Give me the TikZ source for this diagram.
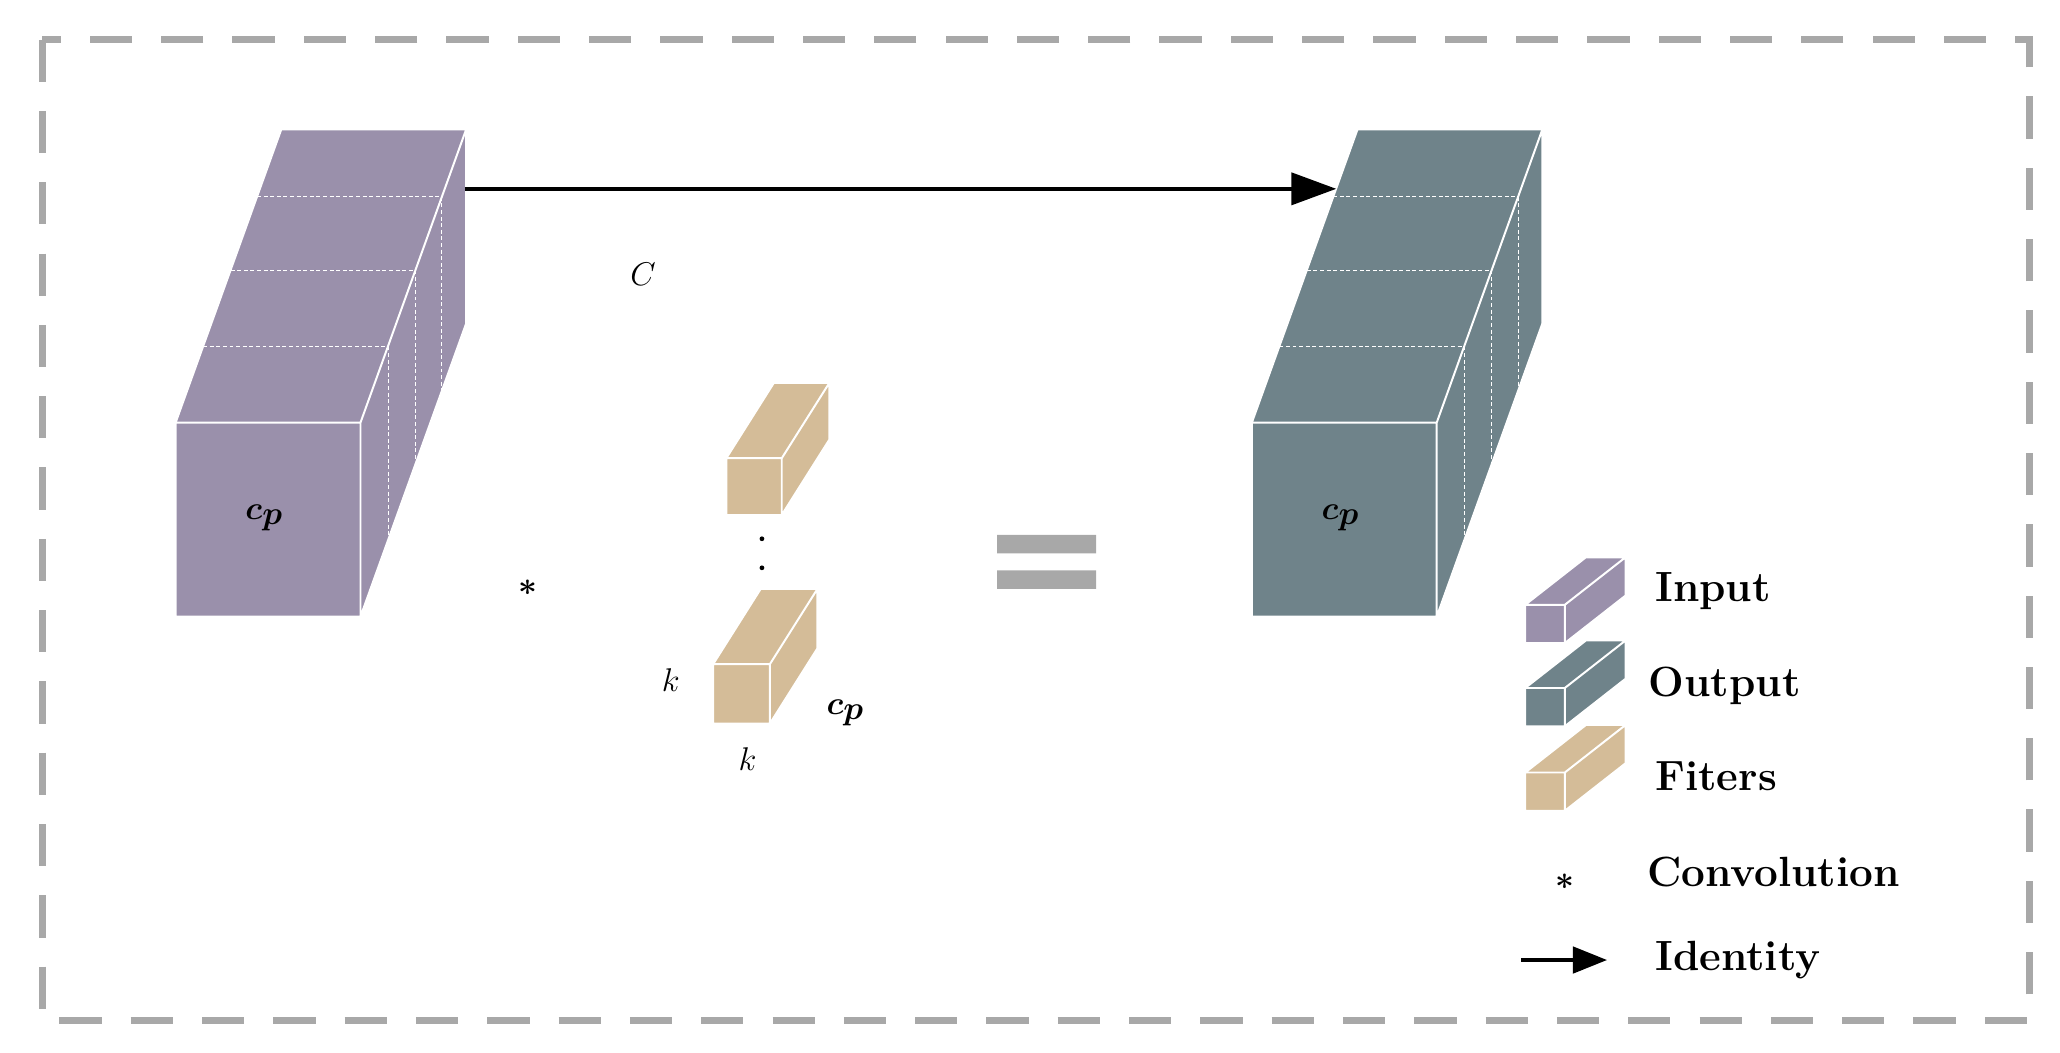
\documentclass[tikz,border=0pt]{standalone}
\usepackage{amsmath,bm}
\usetikzlibrary{arrows.meta}
\definecolor{inp}{HTML}{9A90AB}
\definecolor{outp}{HTML}{6F838A}
\definecolor{filt}{HTML}{D4BC98}
\definecolor{frame}{HTML}{A8A8A8}
% #1 left x, #2 front top y, #3 w, #4 h, #5 dx, #6 dy, #7 colour
\newcommand\mycube[7]{%
  \fill[#7] (#1,#2) rectangle (#1+#3,#2+#4);
  \fill[#7] (#1,#2)--(#1+#5,#2-#6)--(#1+#3+#5,#2-#6)--(#1+#3,#2)--cycle;
  \fill[#7] (#1+#3,#2)--(#1+#3+#5,#2-#6)--(#1+#3+#5,#2+#4-#6)--(#1+#3,#2+#4)--cycle;
  \draw[white,line width=1.5pt,line join=round] (#1,#2) rectangle (#1+#3,#2+#4)
    (#1,#2)--(#1+#5,#2-#6)--(#1+#3+#5,#2-#6)--(#1+#3,#2)
    (#1+#3+#5,#2-#6)--(#1+#3+#5,#2+#4-#6)--(#1+#3,#2+#4);}
\newcommand\mygrid[6]{%
  \foreach \t in {0.26,0.52,0.77}{
    \draw[white,densely dashed,line width=0.6pt] (#1+\t*#5,#2-\t*#6)--(#1+#3+\t*#5,#2-\t*#6)--(#1+#3+\t*#5,#2+#4-\t*#6);}}
\tikzset{lab/.style={font=\fontsize{32}{36}\selectfont\bfseries,anchor=west},
  cp/.style={font=\fontsize{48}{52}\selectfont}}
\begin{document}
\begin{tikzpicture}[x=1pt,y=-1pt]
\useasboundingbox (0,0) rectangle (1560,797);
\draw[frame,line width=5pt,dash pattern=on 32pt off 22pt] (32,30) rectangle (1537,773);
% input
\mycube{133}{320}{140}{147}{80}{222}{inp}
\mygrid{133}{320}{140}{147}{80}{222}
\node[cp] (cpi) at (200,392) {$\bm{c_p}$};
% output
\mycube{948}{320}{140}{147}{80}{222}{outp}
\mygrid{948}{320}{140}{147}{80}{222}
\node[cp] (cpo) at (1015,392) {$\bm{c_p}$};
% identity arrow
\coordinate (a1) at (352,143);
\coordinate (a2) at (1012,143);
\draw[line width=3.5pt,-{Triangle[length=34pt,width=24pt]}] (a1)--(a2);
\node[cp,font=\fontsize{40}{44}\selectfont] (C) at (487,208) {$C$};
% convolution
\node[font=\fontsize{80}{80}\selectfont\bfseries] (star) at (400,445) {$\bm{\ast}$};
% filters
\mycube{550}{347}{42}{43}{36}{57}{filt}
\mycube{540}{503}{43}{45}{36}{57}{filt}
\fill (577,408) circle (1.8pt) (577,430) circle (1.8pt);
\node[cp,font=\fontsize{38}{40}\selectfont] (k1) at (508,515) {$k$};
\node[cp,font=\fontsize{38}{40}\selectfont] (k2) at (566,575) {$k$};
\node[cp] (cpf) at (640,540) {$\bm{c_p}$};
% equals
\fill[frame] (755,405) rectangle (830,419) (755,432) rectangle (830,446);
% legend
\mycube{1155}{458}{30}{29}{46}{36}{inp}
\mycube{1155}{521}{30}{29}{46}{36}{outp}
\mycube{1155}{585}{30}{29}{46}{36}{filt}
\node[lab] (li) at (1250,448) {Input};
\node[lab] (lo) at (1245,519) {Output};
\node[lab] (lf) at (1250,588) {Fiters};
\node[font=\fontsize{56}{56}\selectfont\bfseries] (ls) at (1185,668) {$\bm{\ast}$};
\node[lab] (lc) at (1244,660) {Convolution};
\coordinate (b1) at (1152,727);
\coordinate (b2) at (1217,727);
\draw[line width=3pt,-{Triangle[length=26pt,width=20pt]}] (b1)--(b2);
\node[lab] (ld) at (1250,727) {Identity};
\end{tikzpicture}
\end{document}
